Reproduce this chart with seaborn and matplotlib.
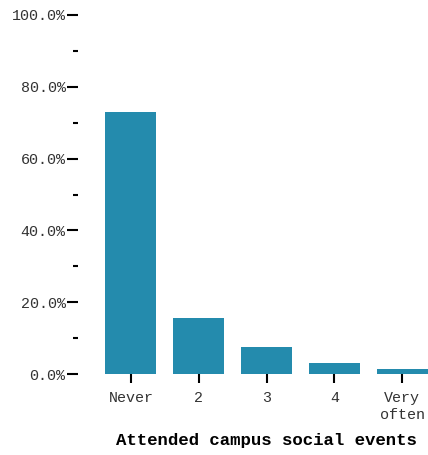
import matplotlib
matplotlib.use("Agg")
import matplotlib.pyplot as plt
import seaborn as sns
import pandas as pd
from matplotlib.ticker import MultipleLocator, FuncFormatter

categories = ["Never", "2", "3", "4", "Very\noften"]
values = [73.0, 15.5, 7.5, 3.0, 1.4]
xlabel = "Attended campus social events"

sns.set_style("white")
plt.rcParams['font.family'] = ['Liberation Mono', 'DejaVu Sans']

df = pd.DataFrame({"cat": categories, "pct": values})

W, H = 428, 455
fig = plt.figure(figsize=(W / 100, H / 100), dpi=100)
ax = fig.add_axes([78 / W, (H - 374) / H, (428 - 78) / W, (374 - 15) / H])

sns.barplot(data=df, x="cat", y="pct", color="#248bad", saturation=1,
            width=0.75, linewidth=0, edgecolor="none", ax=ax)

ax.set_ylim(0, 100)
ax.set_xlim(-0.78, 4.38)
for s in ax.spines.values():
    s.set_visible(False)

ax.yaxis.set_major_locator(MultipleLocator(20))
ax.yaxis.set_minor_locator(MultipleLocator(10))
ax.yaxis.set_major_formatter(FuncFormatter(lambda v, p: f"{v:.1f}%"))
ax.tick_params(axis="y", which="major", direction="out", length=8, width=1.5,
               color="black", labelsize=10.8, labelcolor="#333333", pad=1, left=True)
ax.tick_params(axis="y", which="minor", direction="out", length=3.6, width=1.5,
               color="black", left=True)
ax.tick_params(axis="x", which="major", direction="out", length=6.5, width=1.5,
               color="black", labelsize=10.8, labelcolor="#333333", pad=6, bottom=True)
ax.set_ylabel("")
ax.set_xlabel(xlabel, fontsize=12.5, fontweight="bold", color="black", labelpad=8)
ax.xaxis.set_label_coords((266 - 78) / (428 - 78), -0.2)
ax.xaxis.label.set_va("center")
ax.xaxis.label.set_position(((266 - 78) / (428 - 78), 0))
ax.xaxis.set_label_coords((266 - 78) / (428 - 78), -(440 - 374) / (374 - 15))

fig.savefig("out.png", dpi=100)
